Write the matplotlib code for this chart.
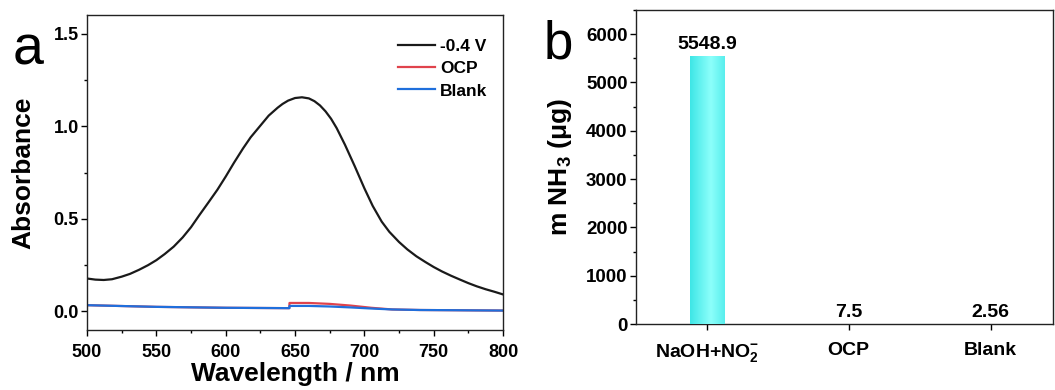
import numpy as np
import matplotlib
matplotlib.use("Agg")
import matplotlib.pyplot as plt
from matplotlib.ticker import MultipleLocator

plt.rcParams['font.family'] = ['Liberation Sans', 'DejaVu Sans']
plt.rcParams['mathtext.fontset'] = 'custom'
plt.rcParams['mathtext.rm'] = 'Liberation Sans:bold'
plt.rcParams['mathtext.bf'] = 'Liberation Sans:bold'
plt.rcParams['mathtext.it'] = 'Liberation Sans:bold'

# ---------------- data: panel a ----------------
wl_neg04 = [500, 506, 512, 518, 525, 531, 537.5, 544, 550, 556, 562.5, 569, 575, 581, 587.5,
            594, 600, 606, 612.5, 618, 625, 631, 637.5, 641, 645, 650, 655, 660, 664,
            668, 672, 676, 680, 686, 693, 700, 706, 712.5, 718, 725, 731, 737.5, 744,
            750, 756, 762.5, 769, 775, 781, 787.5, 794, 800]
abs_neg04 = [0.178, 0.172, 0.170, 0.174, 0.188, 0.203, 0.225, 0.250, 0.277, 0.310, 0.350, 0.400,
             0.455, 0.520, 0.588, 0.657, 0.728, 0.803, 0.880, 0.940, 1.003, 1.057, 1.100, 1.120,
             1.138, 1.152, 1.156, 1.150, 1.135, 1.112, 1.080, 1.040, 0.990, 0.900, 0.785,
             0.665, 0.570, 0.485, 0.430, 0.375, 0.335, 0.298, 0.267, 0.240, 0.216, 0.193,
             0.172, 0.153, 0.136, 0.120, 0.106, 0.092]

wl_base = [500, 550, 600, 645.9, 646, 660, 675, 690, 705, 720, 740, 762, 780, 800]
abs_ocp = [0.034, 0.025, 0.020, 0.018, 0.046, 0.046, 0.041, 0.032, 0.020, 0.011, 0.008, 0.007, 0.006, 0.005]
abs_blank = [0.034, 0.025, 0.020, 0.018, 0.030, 0.030, 0.027, 0.022, 0.016, 0.011, 0.008, 0.007, 0.006, 0.005]

# ---------------- data: panel b ----------------
categories = [r'NaOH+NO$_\mathbf{2}^{\mathbf{-}}$', 'OCP', 'Blank']
nh3_mass = [5548.9, 7.5, 2.56]
nh3_labels = ['5548.9', '7.5', '2.56']

fig = plt.figure(figsize=(10.55, 3.9), dpi=100)

# ---------------- panel a ----------------
ax1 = fig.add_axes([0.0825, 0.1538, 0.3943, 0.8077])
ax1.plot(wl_neg04, abs_neg04, color='#1a1a1a', lw=1.6, label='-0.4 V')
ax1.plot(wl_base, abs_ocp, color='#e0434c', lw=1.6, label='OCP')
ax1.plot(wl_base, abs_blank, color='#1f6fdc', lw=1.6, label='Blank')
ax1.set_xlim(500, 800)
ax1.set_ylim(-0.1, 1.6)
ax1.xaxis.set_major_locator(MultipleLocator(50))
ax1.xaxis.set_minor_locator(MultipleLocator(25))
ax1.yaxis.set_major_locator(MultipleLocator(0.5))
ax1.yaxis.set_minor_locator(MultipleLocator(0.25))
ax1.tick_params(which='major', direction='out', length=4, width=1.0, labelsize=13)
ax1.tick_params(axis='x', pad=6)
ax1.tick_params(axis='y', pad=2)
ax1.tick_params(which='minor', direction='out', length=2.5, width=1.0)
for lbl in ax1.get_xticklabels() + ax1.get_yticklabels():
    lbl.set_fontweight('bold')
for s in ax1.spines.values():
    s.set_linewidth(1.0)
    s.set_color('#222222')
ax1.set_xlabel('Wavelength / nm', fontsize=19, fontweight='bold')
ax1.set_ylabel('Absorbance', fontsize=19, fontweight='bold')
ax1.xaxis.set_label_coords(0.5, -0.1)
ax1.yaxis.set_label_coords(-0.153, 0.5)
ax1.yaxis.label.set_va('center')
leg = ax1.legend(loc='upper right', bbox_to_anchor=(1.0, 0.975), frameon=False,
                 prop={'weight': 'bold', 'size': 12.5},
                 handlelength=2.1, handletextpad=0.3, labelspacing=0.42,
                 borderaxespad=0.5)
fig.text(0.027, 0.87, 'a', fontsize=40, ha='center', va='center')

# ---------------- panel b ----------------
ax2 = fig.add_axes([0.6028, 0.1692, 0.3953, 0.8051])
x = np.arange(len(categories))
bars = ax2.bar(x, nh3_mass, width=0.24, color='#6ff5f2', zorder=2)
# horizontal cyan gradient inside each bar
grad = np.linspace(0, 1, 128)
prof = np.clip(1 - np.abs(grad - 0.6) * 1.6, 0, 1)
cmap = matplotlib.colors.LinearSegmentedColormap.from_list('cy', ['#3ee6e6', '#8cfffb'])
for b in bars:
    if b.get_height() > 100:
        im = ax2.imshow(prof[None, :], cmap=cmap, aspect='auto', zorder=3,
                        interpolation='bilinear',
                        extent=[b.get_x(), b.get_x() + b.get_width(), 0, b.get_height()])
        im.set_clip_path(b)
for xi, v, t in zip(x, nh3_mass, nh3_labels):
    ax2.text(xi, v + 60, t, ha='center', va='bottom', fontsize=14, fontweight='bold')
ax2.set_xlim(-0.5, 2.44)
ax2.set_ylim(0, 6500)
ax2.set_xticks(x)
ax2.set_xticklabels(categories)
ax2.yaxis.set_major_locator(MultipleLocator(1000))
ax2.yaxis.set_minor_locator(MultipleLocator(500))
ax2.tick_params(which='major', direction='out', length=4, width=1.0, labelsize=13.5)
ax2.tick_params(axis='x', labelsize=14, pad=9)
ax2.tick_params(axis='y', pad=2)
ax2.tick_params(which='minor', direction='out', length=2.5, width=1.0)
ax2.tick_params(axis='x', which='minor', bottom=False)
for lbl in ax2.get_xticklabels() + ax2.get_yticklabels():
    lbl.set_fontweight('bold')
for s in ax2.spines.values():
    s.set_linewidth(1.0)
    s.set_color('#222222')
ax2.set_ylabel(r'm NH$_\mathbf{3}$ (μg)', fontsize=19, fontweight='bold')
ax2.yaxis.set_label_coords(-0.182, 0.5)
ax2.yaxis.label.set_va('center')
fig.text(0.529, 0.885, 'b', fontsize=38, ha='center', va='center')

fig.savefig('out.png', dpi=100)
